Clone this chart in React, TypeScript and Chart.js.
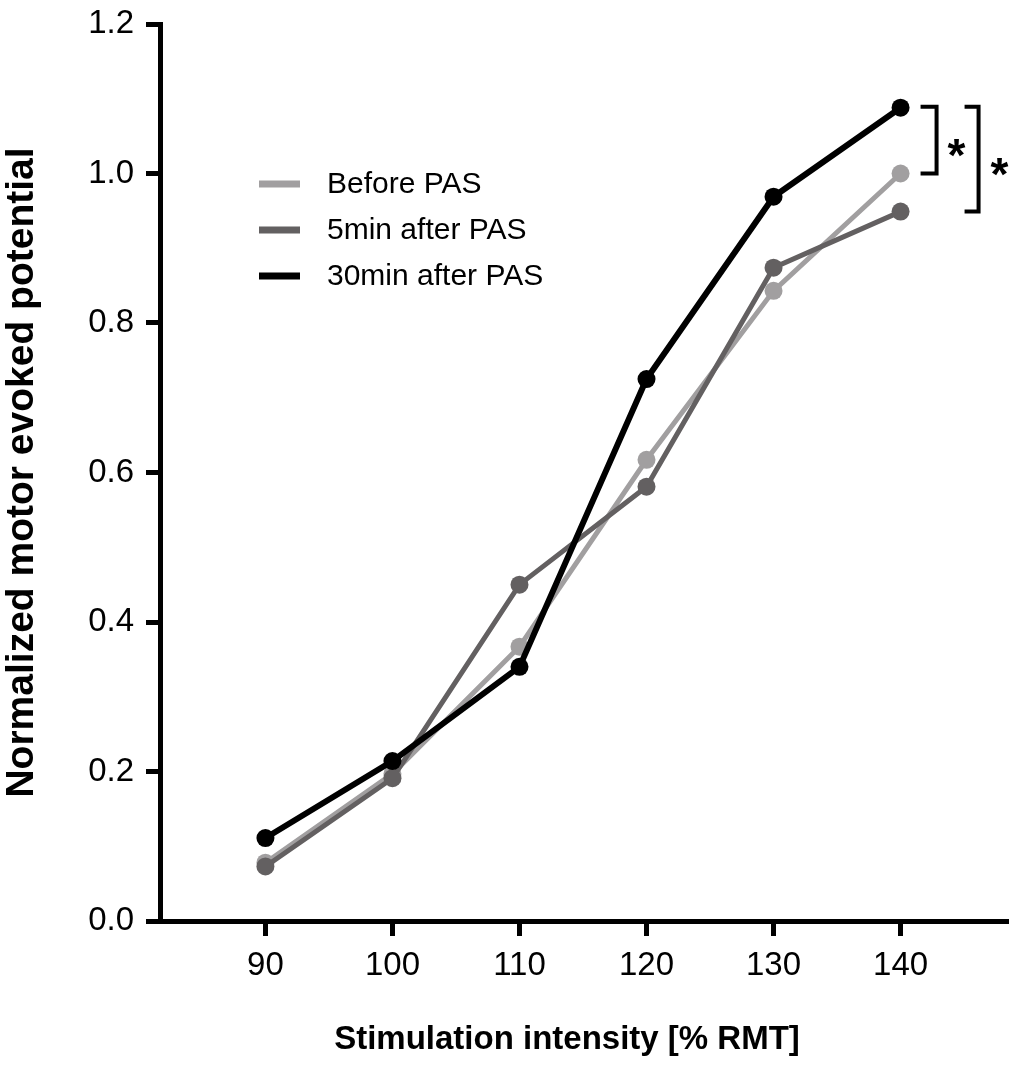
import React, { useEffect, useRef } from "react";
import { Chart, registerables } from "chart.js";

Chart.register(...registerables);

const intensities = [90, 100, 110, 120, 130, 140];
const beforePAS = [0.078, 0.197, 0.367, 0.617, 0.843, 1.0];
const after5min = [0.073, 0.191, 0.45, 0.581, 0.874, 0.949];
const after30min = [0.111, 0.214, 0.34, 0.725, 0.969, 1.088];
const seriesLabels = ["Before PAS", "5min after PAS", "30min after PAS"];
const seriesColors = ["#a19fa0", "#636061", "#000000"];
const seriesWidths = [5, 5, 6];
const yTicks = [0, 0.2, 0.4, 0.6, 0.8, 1.0, 1.2];
const xTitle = "Stimulation intensity [% RMT]";
const yTitle = "Normalized motor evoked potential";

const FONT = "'Liberation Sans', Arial, sans-serif";

const overlayPlugin = {
  id: "overlay",
  afterDraw(chart: any) {
    const ctx = chart.ctx;
    const area = chart.chartArea;
    const xs = chart.scales.x;
    const ys = chart.scales.y;
    ctx.save();

    // legend
    const lx = area.left + 99;
    const ly0 = area.top + 160;
    chart.data.datasets.forEach((ds: any, i: number) => {
      const y = ly0 + i * 46;
      ctx.strokeStyle = ds.borderColor;
      ctx.lineWidth = 7;
      ctx.beginPath();
      ctx.moveTo(lx, y);
      ctx.lineTo(lx + 41, y);
      ctx.stroke();
      ctx.fillStyle = "#000";
      ctx.font = `30px ${FONT}`;
      ctx.textBaseline = "middle";
      ctx.textAlign = "left";
      ctx.fillText(ds.label, lx + 68, y + 1);
    });

    // significance brackets
    const last = intensities.length - 1;
    const xp = xs.getPixelForValue(intensities[last]);
    const y30 = ys.getPixelForValue(after30min[last]);
    const yBefore = ys.getPixelForValue(beforePAS[last]);
    const y5 = ys.getPixelForValue(after5min[last]);
    const drawBracket = (x0: number, x1: number, ya: number, yb: number) => {
      ctx.strokeStyle = "#000";
      ctx.lineWidth = 4;
      ctx.lineJoin = "miter";
      ctx.beginPath();
      ctx.moveTo(x0, ya);
      ctx.lineTo(x1, ya);
      ctx.lineTo(x1, yb);
      ctx.lineTo(x0, yb);
      ctx.stroke();
    };
    drawBracket(xp + 20, xp + 36, y30 - 1, yBefore);
    drawBracket(xp + 64, xp + 78, y30 - 1, y5);
    ctx.fillStyle = "#000";
    ctx.font = `bold 46px ${FONT}`;
    ctx.textAlign = "center";
    ctx.textBaseline = "alphabetic";
    ctx.fillText("*", xp + 56, (y30 + yBefore) / 2 + 30);
    ctx.fillText("*", xp + 99, (y30 + y5) / 2 + 30);

    // axis titles
    ctx.font = `bold 33px ${FONT}`;
    ctx.textAlign = "center";
    ctx.textBaseline = "middle";
    ctx.fillText(xTitle, 567, area.bottom + 119);

    ctx.save();
    ctx.translate(22, (area.top + area.bottom) / 2);
    ctx.rotate(-Math.PI / 2);
    ctx.font = `bold 39px ${FONT}`;
    ctx.fillText(yTitle, 0, 0);
    ctx.restore();

    ctx.restore();
  },
};

export default function App() {
  const ref = useRef<HTMLCanvasElement | null>(null);

  useEffect(() => {
    if (!ref.current) return;
    const mk = (data: number[]) => intensities.map((x, i) => ({ x, y: data[i] }));
    const chart = new Chart(ref.current, {
      type: "line",
      data: {
        datasets: [
          { label: seriesLabels[0], data: mk(beforePAS), order: 3 },
          { label: seriesLabels[1], data: mk(after5min), order: 2 },
          { label: seriesLabels[2], data: mk(after30min), order: 1 },
        ].map((d, i) => ({
          ...d,
          borderColor: seriesColors[i],
          backgroundColor: seriesColors[i],
          pointBackgroundColor: seriesColors[i],
          pointBorderColor: seriesColors[i],
          borderWidth: seriesWidths[i],
          pointRadius: 9,
          pointBorderWidth: 0,
          tension: 0,
          fill: false,
        })),
      },
      options: {
        animation: false,
        responsive: true,
        maintainAspectRatio: false,
        layout: { padding: { top: 24, right: 7, left: 0, bottom: 0 } },
        plugins: {
          legend: { display: false },
          tooltip: { enabled: false },
        },
        scales: {
          x: {
            type: "linear",
            min: 81.7,
            max: 148.3,
            afterBuildTicks: (scale: any) => {
              scale.ticks = intensities.map((v) => ({ value: v }));
            },
            afterFit: (scale: any) => {
              scale.height = 148;
              scale.paddingLeft = 0;
              scale.paddingRight = 0;
            },
            border: { display: true, color: "#000", width: 5 },
            grid: {
              display: true,
              drawOnChartArea: false,
              drawTicks: true,
              tickLength: 15,
              lineWidth: 5,
              color: "#000",
            },
            ticks: {
              color: "#000",
              font: { family: FONT, size: 33 },
              padding: 10,
              callback: (v: any) => String(v),
            },
          },
          y: {
            type: "linear",
            min: 0,
            max: 1.2,
            afterBuildTicks: (scale: any) => {
              scale.ticks = yTicks.map((v) => ({ value: v }));
            },
            afterFit: (scale: any) => {
              scale.width = 160;
              scale.paddingTop = 0;
              scale.paddingBottom = 0;
            },
            border: { display: true, color: "#000", width: 5 },
            grid: {
              display: true,
              drawOnChartArea: false,
              drawTicks: true,
              tickLength: 14,
              lineWidth: 5,
              color: "#000",
            },
            ticks: {
              color: "#000",
              font: { family: FONT, size: 33 },
              padding: 12,
              callback: (v: any) => Number(v).toFixed(1),
            },
          },
        },
      },
      plugins: [overlayPlugin],
    } as any);
    return () => chart.destroy();
  }, []);

  return (
    <div style={{ position: "absolute", left: 0, top: 0, width: 1015, height: 1069, background: "#fff" }}>
      <canvas ref={ref} />
    </div>
  );
}
